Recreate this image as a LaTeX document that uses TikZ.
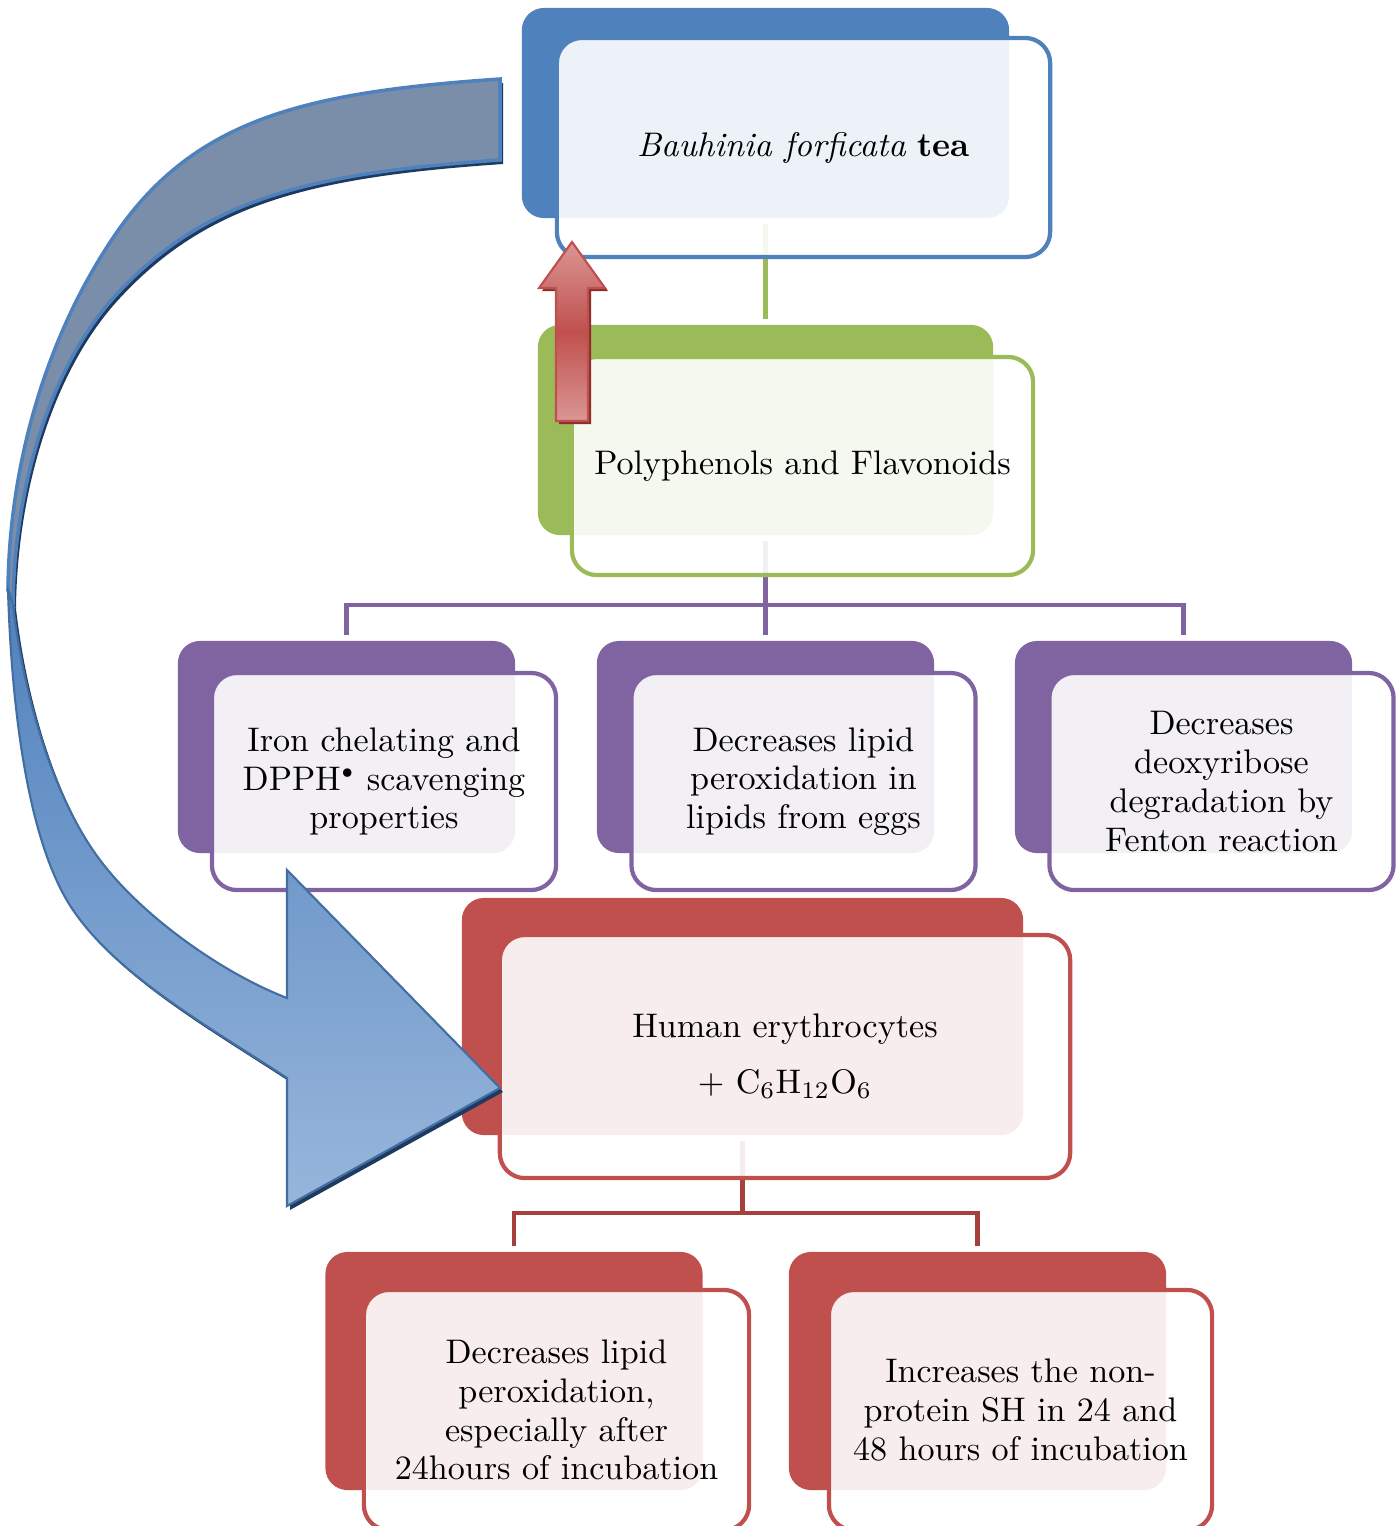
\documentclass[tikz,border=0pt]{standalone}

\definecolor{teablue}{HTML}{4F81BD}
\definecolor{polygreen}{HTML}{9BBB59}
\definecolor{effpurple}{HTML}{8064A2}
\definecolor{cellred}{HTML}{C0504D}
\definecolor{linkred}{HTML}{A5403D}
\definecolor{ribbongray}{HTML}{7A8EAA}
\definecolor{ribbonlight}{HTML}{98B6DB}
\definecolor{shadownavy}{HTML}{1F3A60}
\definecolor{pinklight}{HTML}{DA9694}
\definecolor{shadowred}{HTML}{8C2D2A}

\newcommand\boxfont{\fontsize{9.7}{11}\selectfont}

% the two halves of the ribbon arrow and the small rising arrow
\newcommand\ribbonback{(500,79) .. controls (310,92) and (197,117) .. (117,232)
  .. controls (49,330) and (9,460) .. (8,590) -- (13,605)
  .. controls (14,490) and (49,367) .. (117,294)
  .. controls (205,199) and (310,173) .. (500,160) -- cycle}
\newcommand\ribbonfront{(8,590) .. controls (11.6,710) and (28,844) .. (73,910)
  .. controls (117.6,976) and (212,1028.5) .. (287,1078)
  -- (287,1206) -- (500,1088) -- (287,870) -- (287,998)
  .. controls (222,973) and (142,916) .. (100,860)
  .. controls (52,796) and (23.4,694) .. (13,605) -- cycle}
\newcommand\risepath{(572,242) -- (539,288) -- (556,288) -- (556,421) -- (588,421) -- (588,288) -- (605,288) -- cycle}

\tikzset{
  backbox/.style={fill=#1, rounded corners=0.22cm, inner sep=0pt, outer sep=0pt},
  frontbox/.style={draw=#1, line width=1.2pt, fill=white, fill opacity=0.9, text opacity=1,
    rounded corners=0.25cm, inner sep=0pt, outer sep=0pt, align=center, font=\boxfont},
  link/.style={draw=#1, line width=1.2pt, shorten <=0.06cm, shorten >=0.06cm},
}

\begin{document}
\begin{tikzpicture}[x=0.01cm, y=-0.01cm]
\useasboundingbox (0,0) rectangle (1397,1526);

% back cards
\node[backbox=teablue, minimum width=4.87cm, minimum height=2.1cm] (tea-back) at (765.5,113) {};
\node[backbox=polygreen, minimum width=4.55cm, minimum height=2.1cm] (poly-back) at (765.5,430) {};
\foreach \nm/\cx in {iron/346.5, lip/765.5, fent/1183.5}
  \node[backbox=effpurple, minimum width=3.37cm, minimum height=2.12cm] (\nm-back) at (\cx,747) {};
\node[backbox=cellred, minimum width=5.61cm, minimum height=2.37cm] (hum-back) at (742.5,1016.5) {};
\foreach \nm/\cx in {lpo/514, sh/977.5}
  \node[backbox=cellred, minimum width=3.77cm, minimum height=2.38cm] (\nm-back) at (\cx,1371) {};

% connectors
\coordinate (fork-p) at (765.5,605);
\coordinate (fork-r) at (742.5,1213);
\draw[link=polygreen] (tea-back) -- (poly-back);
\draw[link=effpurple, shorten >=0pt] (poly-back) -- (fork-p);
\draw[link=effpurple] (iron-back.north) |- (fork-p) -| (fent-back.north);
\draw[link=effpurple, shorten <=0pt] (fork-p) -- (lip-back);
\draw[link=linkred, shorten >=0pt] (hum-back) -- (fork-r);
\draw[link=linkred] (lpo-back.north) |- (fork-r) -| (sh-back.north);

% front cards
\node[frontbox=teablue, minimum width=4.93cm, minimum height=2.19cm] (tea) at (803.5,147.5)
  {\textit{Bauhinia forficata} \textbf{tea}};
\node[frontbox=polygreen, minimum width=4.61cm, minimum height=2.18cm] (poly) at (802.5,466)
  {Polyphenols and Flavonoids};
\node[frontbox=effpurple, minimum width=3.44cm, minimum height=2.17cm] (iron) at (384,781.5)
  {Iron chelating and\\DPPH$^{\scriptscriptstyle\bullet}$ scavenging\\properties};
\node[frontbox=effpurple, minimum width=3.44cm, minimum height=2.17cm] (lip) at (803.5,781.5)
  {Decreases lipid\\peroxidation in\\lipids from eggs};
\node[frontbox=effpurple, minimum width=3.44cm, minimum height=2.17cm] (fent) at (1221.5,781.5)
  {Decreases\\deoxyribose\\degradation by\\Fenton reaction};
\node[frontbox=cellred, minimum width=5.7cm, minimum height=2.43cm] (hum) at (785,1056.5)
  {Human erythrocytes\\[5pt]+ C\textsubscript{6}H\textsubscript{12}O\textsubscript{6}};
\node[frontbox=cellred, minimum width=3.85cm, minimum height=2.4cm] (lpo) at (556.5,1410)
  {Decreases lipid\\peroxidation,\\especially after\\24hours of incubation};
\node[frontbox=cellred, minimum width=3.83cm, minimum height=2.4cm] (sh) at (1020.5,1410)
  {Increases the non-\\protein SH in 24 and\\48 hours of incubation};

% ribbon arrow
\fill[shadownavy, shift={(3,4)}] \ribbonback;
\fill[shadownavy, shift={(3,4)}] \ribbonfront;
\draw[teablue, line width=1pt, fill=ribbongray] \ribbonback;
\draw[teablue!85!black, line width=0.6pt, top color=teablue, bottom color=ribbonlight] \ribbonfront;

% rising arrow
\fill[shadowred, shift={(3,3)}] \risepath;
\draw[cellred, line width=0.6pt, top color=pinklight, bottom color=pinklight, middle color=cellred] \risepath;
\end{tikzpicture}
\end{document}
